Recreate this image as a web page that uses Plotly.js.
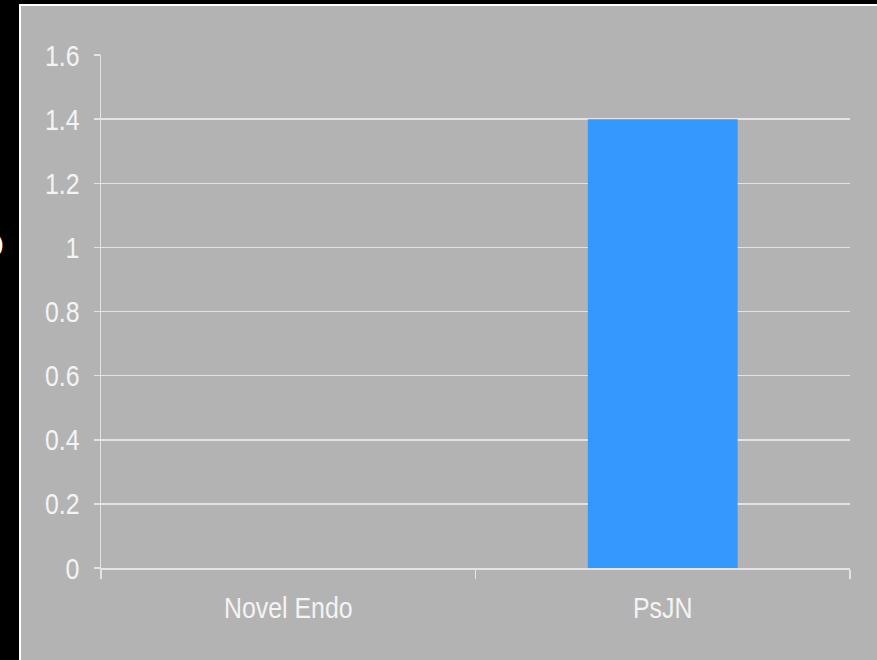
<!DOCTYPE html>
<html>
<head>
<meta charset="utf-8">
<script src="https://cdn.plot.ly/plotly-3.0.1.min.js"></script>
<style>
  html, body { margin: 0; padding: 0; background: #000; }
  #chart { width: 877px; height: 660px; }
</style>
</head>
<body>
<div id="chart"></div>
<script>
// Categories and measured values
const categories = ['Novel Endo', 'PsJN'];
const values = [0, 1.4];
const yTicks = [0, 0.2, 0.4, 0.6, 0.8, 1, 1.2, 1.4, 1.6];

const W = 877, H = 660;
const margin = { l: 101, r: 27, t: 55, b: 92 };
const plotW = W - margin.l - margin.r;
const plotH = H - margin.t - margin.b;
// pixel -> paper helpers for decorations around the plot area
const px = x => (x - margin.l) / plotW;
const py = y => (H - margin.b - y) / plotH;

const font = "'Liberation Sans', Arial, sans-serif";
const textColor = '#f4f4f4';
const gridColor = '#e4e4e4';
// tick labels use a narrow, tall face
const NARROW = 0.83;

const data = [{
  type: 'bar',
  x: categories,
  y: values,
  marker: { color: '#3399ff', line: { width: 0 } },
  hoverinfo: 'x+y'
}];

const layout = {
  width: W,
  height: H,
  margin: margin,
  paper_bgcolor: '#000000',
  plot_bgcolor: 'rgba(0,0,0,0)',
  showlegend: false,
  bargap: 0.6,
  font: { family: font, size: 29, color: textColor },
  xaxis: {
    type: 'category',
    range: [-0.5, 1.5],
    tickson: 'boundaries',
    ticks: 'outside',
    ticklen: 9,
    tickwidth: 1.5,
    tickcolor: gridColor,
    showgrid: false,
    showline: true,
    linecolor: gridColor,
    linewidth: 1.5,
    tickfont: { family: font, size: 30, color: textColor },
    ticklabelstandoff: 12,
    zeroline: false,
    fixedrange: true
  },
  yaxis: {
    range: [0, 1.6],
    tickvals: yTicks,
    ticktext: yTicks.map(String),
    ticks: 'outside',
    ticklen: 6,
    tickwidth: 1.5,
    tickcolor: gridColor,
    showgrid: true,
    gridcolor: gridColor,
    gridwidth: 1.5,
    showline: true,
    linecolor: gridColor,
    linewidth: 1.5,
    zeroline: false,
    tickfont: { family: font, size: 30, color: textColor },
    ticklabelstandoff: 8,
    fixedrange: true
  },
  shapes: [{
    // grey panel with a thin white edge behind the chart
    type: 'rect',
    xref: 'paper', yref: 'paper',
    x0: px(20), x1: px(W + 20),
    y0: py(H + 20), y1: py(5),
    fillcolor: '#b3b3b3',
    line: { color: '#ffffff', width: 2 },
    layer: 'below'
  }],
  annotations: [{
    xref: 'paper', yref: 'paper',
    x: px(6), y: py(242),
    xanchor: 'right', yanchor: 'middle',
    text: '<b>o</b>',
    showarrow: false,
    font: { family: font, size: 46, color: '#ffffff' }
  }]
};

Plotly.newPlot('chart', data, layout, { displayModeBar: false, staticPlot: true })
  .then(gd => {
    // squeeze tick labels horizontally to get the condensed look
    gd.querySelectorAll('.xtick text, .ytick text').forEach(t => {
      const w = t.getComputedTextLength();
      t.setAttribute('textLength', (w * NARROW).toFixed(1));
      t.setAttribute('lengthAdjust', 'spacingAndGlyphs');
    });
  });
</script>
</body>
</html>
